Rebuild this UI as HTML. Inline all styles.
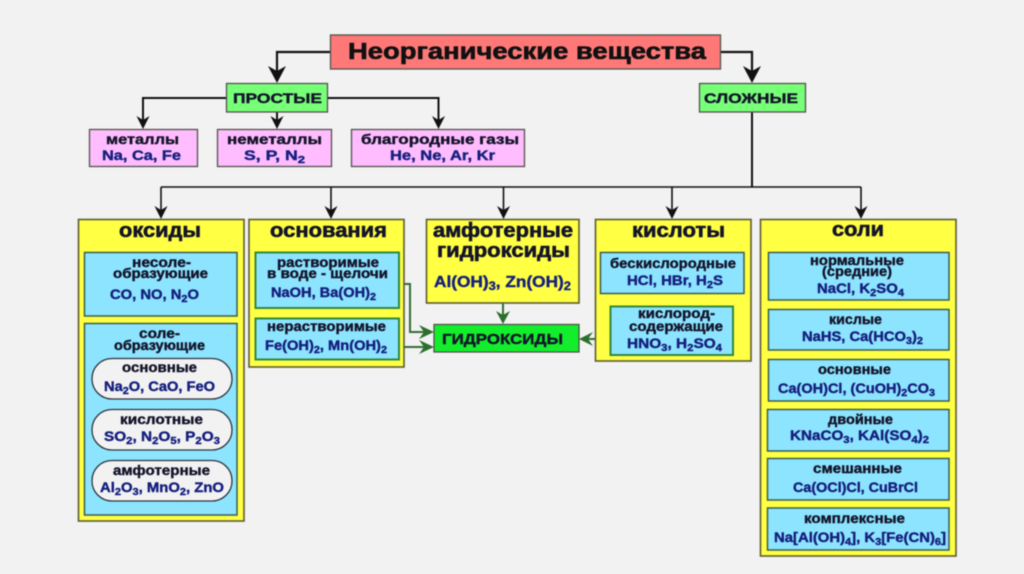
<!DOCTYPE html>
<html lang="ru"><head><meta charset="utf-8"><title>Неорганические вещества</title>
<style>
html,body{margin:0;padding:0;background:#f2f2f2;width:1024px;height:574px;overflow:hidden}
svg{display:block;filter:blur(.5px)}
text{font-family:"Liberation Sans",sans-serif;font-weight:bold;fill:#14142a;font-size:13.5px;stroke:#14142a;stroke-width:.4}
.f{fill:#16207e;stroke:#16207e}
.h{font-size:20.5px;stroke-width:.6}
.s{font-size:10px}
rect{stroke:#50504a;stroke-width:1.3}
.r{fill:#ff7878}.g{fill:#78ff78}.p{fill:#ffbcff}.y{fill:#ffff44;stroke:#5c5c30;stroke-width:1.6}
.c{fill:#8ce4ff;stroke:#3c5c4c;stroke-width:1.5}
.cg{fill:#8ce4ff;stroke:#2f8a3c;stroke-width:2}
.w{fill:#f2f2f2;stroke:#30343c;stroke-width:1.3}
.l{fill:none;stroke:#111;stroke-width:2}
.gl{fill:none;stroke:#2f6e35;stroke-width:2}
</style></head><body>
<svg width="1024" height="574" viewBox="0 0 1024 574" xmlns="http://www.w3.org/2000/svg">
<!-- connectors -->
<path class="l" style="stroke-width:2.2" d="M330 52H277V72M721 52H752V72"/>
<path d="M268 66L277 83L286 66L277 71Z M743 66L752 83L761 66L752 71Z" fill="#111"/>
<path class="l" d="M226 98H143V120M277 112V120M328 98H438.500V120M752 112V187"/>
<path d="M136.500 116L143 129L149.500 116L143 120Z M270.500 116L277 129L283.500 116L277 120Z M432 116L438.500 129L445 116L438.500 120Z" fill="#111"/>
<path class="l" style="stroke-width:1.600" d="M161 187H861M161 187V210M331 187V210M503.500 187V210M672 187V210M861 187V210"/>
<path d="M154.500 206L161 219L167.500 206L161 210Z M324.500 206L331 219L337.500 206L331 210Z M497 206L503.500 219L510 206L503.500 210Z M665.500 206L672 219L678.500 206L672 210Z M854.500 206L861 219L867.500 206L861 210Z" fill="#111"/>
<path class="gl" d="M399 284H410V332H426M399 347H426M503 303V316M610 339H586"/>
<path d="M434 332L419 325L424 332L419 339Z M434 347L419 340L424 347L419 354Z M503 324L496 311L503 315L510 311Z M579 339L593 332L588 339L593 346Z" fill="#2c6e2c"/>

<!-- top -->
<rect class="r" x="330.500" y="35" width="390" height="34"/>
<text x="348" y="59" font-size="23" style="font-size:23px;stroke-width:.6;fill:#111;stroke:#111" textLength="358" lengthAdjust="spacingAndGlyphs">Неорганические вещества</text>
<rect class="g" x="226.500" y="83.500" width="101" height="28.500"/>
<text x="233" y="103" style="font-size:14px" textLength="89" lengthAdjust="spacingAndGlyphs">ПРОСТЫЕ</text>
<rect class="g" x="699.500" y="83.500" width="106" height="28.500"/>
<text x="704" y="103" style="font-size:14px" textLength="94" lengthAdjust="spacingAndGlyphs">СЛОЖНЫЕ</text>

<rect class="p" x="89.500" y="129.500" width="108" height="37"/>
<text x="106" y="144" textLength="73" lengthAdjust="spacingAndGlyphs">металлы</text>
<text class="f" x="102" y="160" textLength="79" lengthAdjust="spacingAndGlyphs">Na, Ca, Fe</text>
<rect class="p" x="217.500" y="129.500" width="114" height="37"/>
<text x="227" y="144" textLength="95" lengthAdjust="spacingAndGlyphs">неметаллы</text>
<text class="f" x="244" y="160" textLength="61" lengthAdjust="spacingAndGlyphs">S, P, N<tspan class="s" dy="3">2</tspan></text>
<rect class="p" x="351.500" y="129.500" width="173" height="37"/>
<text x="361" y="144" textLength="158" lengthAdjust="spacingAndGlyphs">благородные газы</text>
<text class="f" x="390" y="160" textLength="105" lengthAdjust="spacingAndGlyphs">He, Ne, Ar, Kr</text>

<!-- оксиды -->
<rect class="y" x="78.500" y="219.500" width="165.500" height="301.500"/>
<text class="h" x="119" y="237" textLength="82" lengthAdjust="spacingAndGlyphs">оксиды</text>
<rect class="c" x="84.500" y="252.500" width="152.500" height="63.500"/>
<text x="132" y="267" textLength="59" lengthAdjust="spacingAndGlyphs">несоле-</text>
<text x="113" y="278" textLength="95" lengthAdjust="spacingAndGlyphs">образующие</text>
<text class="f" x="110" y="299" textLength="89" lengthAdjust="spacingAndGlyphs">CO, NO, N<tspan class="s" dy="3">2</tspan><tspan dy="-3">O</tspan></text>
<rect class="c" x="84.500" y="323.500" width="152.500" height="191.500"/>
<text x="139" y="338" textLength="41" lengthAdjust="spacingAndGlyphs">соле-</text>
<text x="114" y="350" textLength="91" lengthAdjust="spacingAndGlyphs">образующие</text>
<rect class="w" x="92" y="358.500" width="140" height="40.500" rx="20" ry="20"/>
<text x="122" y="372" textLength="75" lengthAdjust="spacingAndGlyphs">основные</text>
<text class="f" x="104" y="391" textLength="111" lengthAdjust="spacingAndGlyphs">Na<tspan class="s" dy="3">2</tspan><tspan dy="-3">O, CaO, FeO</tspan></text>
<rect class="w" x="92" y="409.500" width="140" height="40.500" rx="20" ry="20"/>
<text x="120" y="424" textLength="83" lengthAdjust="spacingAndGlyphs">кислотные</text>
<text class="f" x="104" y="441" textLength="116" lengthAdjust="spacingAndGlyphs">SO<tspan class="s" dy="3">2</tspan><tspan dy="-3">, N</tspan><tspan class="s" dy="3">2</tspan><tspan dy="-3">O</tspan><tspan class="s" dy="3">5</tspan><tspan dy="-3">, P</tspan><tspan class="s" dy="3">2</tspan><tspan dy="-3">O</tspan><tspan class="s" dy="3">3</tspan></text>
<rect class="w" x="92" y="460.500" width="140" height="40.500" rx="20" ry="20"/>
<text x="113" y="475" textLength="97" lengthAdjust="spacingAndGlyphs">амфотерные</text>
<text class="f" x="100" y="492" textLength="124" lengthAdjust="spacingAndGlyphs">Al<tspan class="s" dy="3">2</tspan><tspan dy="-3">O</tspan><tspan class="s" dy="3">3</tspan><tspan dy="-3">, MnO</tspan><tspan class="s" dy="3">2</tspan><tspan dy="-3">, ZnO</tspan></text>

<!-- основания -->
<rect class="y" x="249" y="219.500" width="155" height="147.500"/>
<text class="h" x="270" y="237" textLength="117" lengthAdjust="spacingAndGlyphs">основания</text>
<rect class="cg" x="255.500" y="252.500" width="143.500" height="55.500"/>
<text x="277" y="267" textLength="102" lengthAdjust="spacingAndGlyphs">растворимые</text>
<text x="267" y="278" textLength="121" lengthAdjust="spacingAndGlyphs">в воде - щелочи</text>
<text class="f" x="271" y="297" textLength="105" lengthAdjust="spacingAndGlyphs">NaOH, Ba(OH)<tspan class="s" dy="3">2</tspan></text>
<rect class="cg" x="255.500" y="318.500" width="143.500" height="41"/>
<text x="267" y="331" textLength="119" lengthAdjust="spacingAndGlyphs">нерастворимые</text>
<text class="f" x="265" y="350" textLength="122" lengthAdjust="spacingAndGlyphs">Fe(OH)<tspan class="s" dy="3">2</tspan><tspan dy="-3">, Mn(OH)</tspan><tspan class="s" dy="3">2</tspan></text>

<!-- амфотерные -->
<rect class="y" x="426.500" y="219.500" width="152.500" height="83.500"/>
<text class="h" x="433" y="237" textLength="140" lengthAdjust="spacingAndGlyphs">амфотерные</text>
<text class="h" x="437" y="257" textLength="133" lengthAdjust="spacingAndGlyphs">гидроксиды</text>
<text class="f" x="434" y="287" style="font-size:16px" textLength="137" lengthAdjust="spacingAndGlyphs">Al(OH)<tspan class="s" style="font-size:12px" dy="3">3</tspan><tspan dy="-3">, Zn(OH)</tspan><tspan class="s" style="font-size:12px" dy="3">2</tspan></text>
<rect x="434" y="324.500" width="145" height="27.500" fill="#12ee2c" stroke="#2f7a30" stroke-width="1.500"/>
<text x="442" y="344" style="font-size:15px" textLength="121" lengthAdjust="spacingAndGlyphs">ГИДРОКСИДЫ</text>

<!-- кислоты -->
<rect class="y" x="595.500" y="219.500" width="155.500" height="141.500"/>
<text class="h" x="632" y="237" textLength="93" lengthAdjust="spacingAndGlyphs">кислоты</text>
<rect class="c" x="600.500" y="252.500" width="143.500" height="41"/>
<text x="610" y="268" textLength="126" lengthAdjust="spacingAndGlyphs">бескислородные</text>
<text class="f" x="627" y="285" textLength="96" lengthAdjust="spacingAndGlyphs">HCl, HBr, H<tspan class="s" dy="3">2</tspan><tspan dy="-3">S</tspan></text>
<rect class="cg" x="610.500" y="306.500" width="122.500" height="48.500"/>
<text x="638" y="318" textLength="77" lengthAdjust="spacingAndGlyphs">кислород-</text>
<text x="629" y="331" textLength="94" lengthAdjust="spacingAndGlyphs">содержащие</text>
<text class="f" x="627" y="348" textLength="95" lengthAdjust="spacingAndGlyphs">HNO<tspan class="s" dy="3">3</tspan><tspan dy="-3">, H</tspan><tspan class="s" dy="3">2</tspan><tspan dy="-3">SO</tspan><tspan class="s" dy="3">4</tspan></text>

<!-- соли -->
<rect class="y" x="760.500" y="219.500" width="195.500" height="336.500"/>
<text class="h" x="832" y="236" textLength="52" lengthAdjust="spacingAndGlyphs">соли</text>
<rect class="c" x="768.500" y="252.500" width="180.500" height="47.500"/>
<text x="810" y="265" textLength="94" lengthAdjust="spacingAndGlyphs">нормальные</text>
<text x="822" y="276" textLength="70" lengthAdjust="spacingAndGlyphs">(средние)</text>
<text class="f" x="817" y="293" textLength="87" lengthAdjust="spacingAndGlyphs">NaCl, K<tspan class="s" dy="3">2</tspan><tspan dy="-3">SO</tspan><tspan class="s" dy="3">4</tspan></text>
<rect class="c" x="768.500" y="309.500" width="180.500" height="40.500"/>
<text x="829" y="324" textLength="53" lengthAdjust="spacingAndGlyphs">кислые</text>
<text class="f" x="802" y="341" textLength="121" lengthAdjust="spacingAndGlyphs">NaHS, Ca(HCO<tspan class="s" dy="3">3</tspan><tspan dy="-3">)</tspan><tspan class="s" dy="3">2</tspan></text>
<rect class="c" x="768.500" y="359.500" width="180.500" height="41.500"/>
<text x="818" y="374" textLength="73" lengthAdjust="spacingAndGlyphs">основные</text>
<text class="f" x="778" y="393" textLength="157" lengthAdjust="spacingAndGlyphs">Ca(OH)Cl, (CuOH)<tspan class="s" dy="3">2</tspan><tspan dy="-3">CO</tspan><tspan class="s" dy="3">3</tspan></text>
<rect class="c" x="767.500" y="409.500" width="181.500" height="41.500"/>
<text x="828" y="424" textLength="65" lengthAdjust="spacingAndGlyphs">двойные</text>
<text class="f" x="790" y="440" textLength="139" lengthAdjust="spacingAndGlyphs">KNaCO<tspan class="s" dy="3">3</tspan><tspan dy="-3">,  KAl(SO</tspan><tspan class="s" dy="3">4</tspan><tspan dy="-3">)</tspan><tspan class="s" dy="3">2</tspan></text>
<rect class="c" x="767.500" y="458.500" width="181.500" height="41.500"/>
<text x="813" y="473" textLength="89" lengthAdjust="spacingAndGlyphs">смешанные</text>
<text class="f" x="793" y="492" textLength="125" lengthAdjust="spacingAndGlyphs">Ca(OCl)Cl, CuBrCl</text>
<rect class="c" x="767.500" y="508" width="181.500" height="42"/>
<text x="804" y="523" textLength="101" lengthAdjust="spacingAndGlyphs">комплексные</text>
<text class="f" x="774" y="542" textLength="172" lengthAdjust="spacingAndGlyphs">Na[Al(OH)<tspan class="s" dy="3">4</tspan><tspan dy="-3">], K</tspan><tspan class="s" dy="3">3</tspan><tspan dy="-3">[Fe(CN)</tspan><tspan class="s" dy="3">6</tspan><tspan dy="-3">]</tspan></text>
</svg>
</body></html>
